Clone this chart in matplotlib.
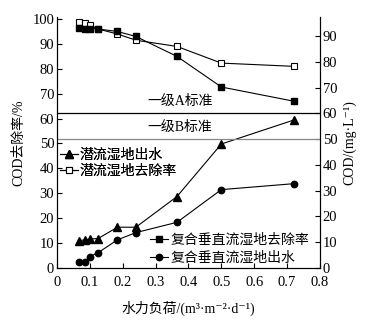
import numpy as np
import matplotlib
matplotlib.use("Agg")
import matplotlib.pyplot as plt

plt.rcParams['font.family'] = ['Liberation Serif', 'Noto Sans CJK SC', 'DejaVu Serif']

# -- hydraulic load (m3 m-2 d-1) -- #
load = [0.067, 0.086, 0.10, 0.125, 0.184, 0.24, 0.365, 0.50, 0.72]

# -- removal rate (%), left axis -- #
sub_removal = [98.8, 98.4, 97.6, 96.0, 94.0, 91.5, 89.0, 82.3, 81.0]
vf_removal = [96.4, 96.0, 96.2, 96.0, 95.0, 93.0, 85.0, 72.7, 67.0]

# -- effluent COD (mg/L), right axis -- #
sub_effluent = [10.6, 10.9, 11.2, 11.4, 15.8, 15.8, 27.7, 48.1, 57.4]
vf_effluent = [2.4, 2.4, 4.4, 5.9, 10.9, 13.7, 17.7, 30.4, 32.7]

std_A = 60
std_B = 50

fig = plt.figure(figsize=(3.85, 3.22), dpi=100)
ax = fig.add_axes([0.148, 0.168, 0.683, 0.779])
ax2 = ax.twinx()

ms = 4.6
lw = 0.8
l_sub_rem, = ax.plot(load, sub_removal, color='black', lw=lw, marker='s', ms=ms,
                     mfc='white', mec='black', mew=0.8)
l_vf_rem, = ax.plot(load, vf_removal, color='black', lw=lw, marker='s', ms=ms,
                    mfc='black', mec='black')
l_sub_eff, = ax2.plot(load, sub_effluent, color='black', lw=lw, marker='^', ms=ms + 0.6,
                      mfc='black', mec='black')
l_vf_eff, = ax2.plot(load, vf_effluent, color='black', lw=lw, marker='o', ms=ms,
                     mfc='black', mec='black')

ax2.axhline(std_A, color='black', lw=0.9)
ax2.axhline(std_B, color='#888888', lw=0.9)
ax2.text(0.375, std_A + 2.0, '一级A标准', fontsize=10, ha='center', va='bottom')
ax2.text(0.375, std_B + 2.0, '一级B标准', fontsize=10, ha='center', va='bottom')

ax.set_xlim(0, 0.8)
ax.set_ylim(0, 100.8)
ax2.set_ylim(0, 97.4)
ax.set_xticks(np.arange(0, 0.81, 0.1))
ax.set_xticklabels(['0', '0.1', '0.2', '0.3', '0.4', '0.5', '0.6', '0.7', '0.8'])
ax.set_yticks(np.arange(0, 101, 10))
ax2.set_yticks(np.arange(0, 91, 10))

for a in (ax, ax2):
    a.spines['top'].set_visible(False)
    a.tick_params(direction='in', length=3.5, width=0.8, labelsize=10.5, pad=2)
    for s in a.spines.values():
        s.set_linewidth(0.8)
ax.tick_params(axis='x', pad=6)

ax.set_xlabel('水力负荷/(m³·m⁻²·d⁻¹)', fontsize=10, labelpad=8)
ax.set_ylabel('COD去除率/%', fontsize=10, labelpad=5)
ax2.set_ylabel('COD/(mg·L⁻¹)', fontsize=10, labelpad=4)

leg1 = ax.legend([l_sub_eff, l_sub_rem], ['潜流湿地出水', '潜流湿地去除率'],
                 loc='upper left', bbox_to_anchor=(0.0, 0.485), frameon=False,
                 fontsize=10, handlelength=1.3, handletextpad=0.15,
                 labelspacing=0.2, borderaxespad=0.1, borderpad=0.1)
ax.add_artist(leg1)
ax2.legend([l_vf_rem, l_vf_eff], ['复合垂直流湿地去除率', '复合垂直流湿地出水'],
           loc='lower right', bbox_to_anchor=(0.97, 0.0), frameon=False,
           fontsize=10, handlelength=1.3, handletextpad=0.15,
           labelspacing=0.4, borderaxespad=0.1, borderpad=0.1)

fig.savefig('out.png', dpi=100)
